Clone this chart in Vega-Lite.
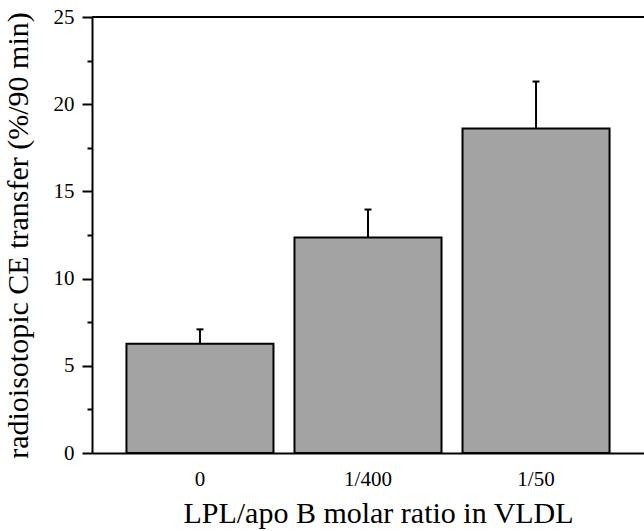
{
  "$schema": "https://vega.github.io/schema/vega-lite/v6.json",
  "width": 552,
  "height": 436,
  "autosize": {"type": "none"},
  "padding": {"left": 92, "top": 17, "right": 0, "bottom": 78},
  "background": "white",
  "config": {
    "view": {"stroke": null},
    "font": "Liberation Serif",
    "axis": {"labelColor": "black", "titleColor": "black", "domainColor": "black", "tickColor": "black", "labelFont": "Liberation Serif", "titleFont": "Liberation Serif", "titleFontWeight": "normal"}
  },
  "data": {
    "values": [
      {"ratio": "0", "mean": 6.27, "upper": 7.09},
      {"ratio": "1/400", "mean": 12.35, "upper": 13.96},
      {"ratio": "1/50", "mean": 18.6, "upper": 21.3}
    ]
  },
  "layer": [
    {
      "mark": {"type": "bar", "fill": "#a3a3a3", "stroke": "black", "strokeWidth": 2},
      "encoding": {
        "x": {
          "field": "ratio", "type": "nominal", "sort": null,
          "scale": {"paddingInner": 0.125, "paddingOuter": 0.205},
          "axis": {
            "title": "LPL/apo B molar ratio in VLDL",
            "titleFontSize": 30,
            "titlePadding": 9,
            "titleX": 286,
            "labelFontSize": 21,
            "labelAngle": 0,
            "labelPadding": 15,
            "ticks": false,
            "domainWidth": 2
          }
        },
        "y": {
          "field": "mean", "type": "quantitative",
          "scale": {"domain": [0, 25], "nice": false},
          "axis": {
            "title": "radioisotopic CE transfer (%/90 min)",
            "titleFontSize": 30,
            "titlePadding": 20,
            "values": [0, 2.5, 5, 7.5, 10, 12.5, 15, 17.5, 20, 22.5, 25],
            "labelExpr": "datum.value % 5 === 0 ? datum.label : ''",
            "labelFontSize": 21,
            "labelPadding": 8,
            "tickSize": {"condition": {"test": "datum.value % 5 === 0", "value": 10}, "value": 5},
            "tickWidth": 2,
            "domainWidth": 2,
            "grid": false
          }
        }
      }
    },
    {
      "mark": {"type": "rule", "strokeWidth": 2, "color": "black"},
      "encoding": {
        "x": {"field": "ratio", "type": "nominal", "sort": null},
        "y": {"field": "mean", "type": "quantitative"},
        "y2": {"field": "upper"}
      }
    },
    {
      "mark": {"type": "tick", "thickness": 2, "size": 7, "color": "black", "opacity": 1},
      "encoding": {
        "x": {"field": "ratio", "type": "nominal", "sort": null},
        "y": {"field": "upper", "type": "quantitative"}
      }
    },
    {
      "mark": {"type": "rule", "strokeWidth": 2, "color": "black"},
      "encoding": {"y": {"datum": 25}}
    }
  ]
}
